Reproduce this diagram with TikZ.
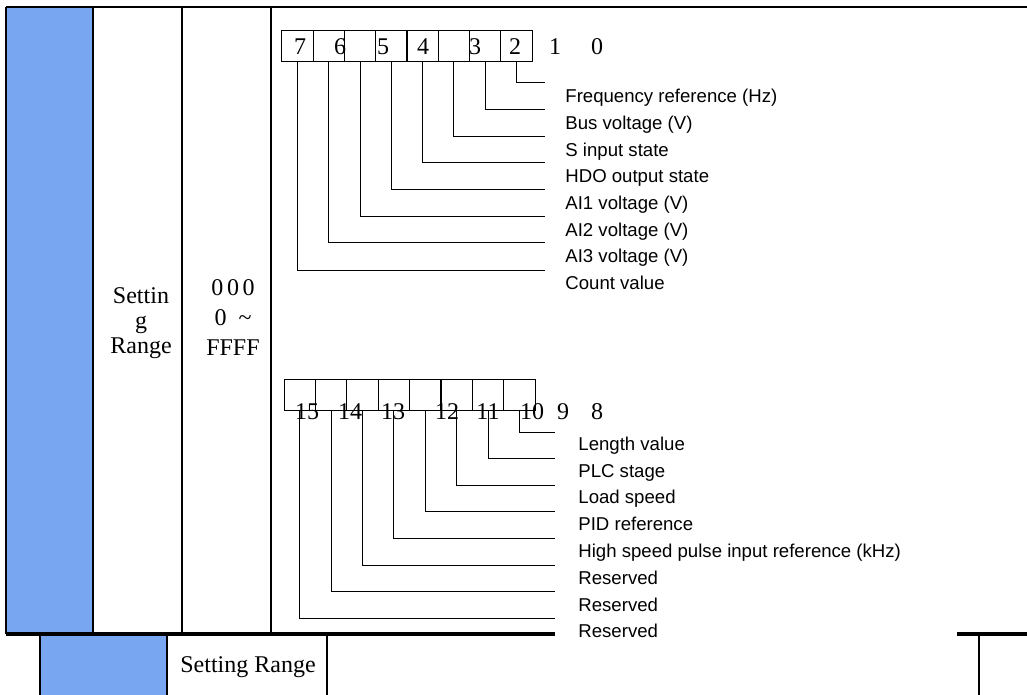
\documentclass[tikz,border=0pt]{standalone}
\usepackage{fontspec}
\setmainfont{Liberation Serif}
\newfontfamily\arialfont{Liberation Sans}
\definecolor{cellblue}{RGB}{120,166,240}
\tikzset{
  bitbox/.style={draw, line width=0.5pt, minimum width=15.65pt, minimum height=15.5pt, inner sep=0pt},
  bitnum/.style={inner sep=0pt, font=\fontsize{12}{14}\selectfont},
  fieldlbl/.style={anchor=west, inner sep=0pt, text height=6.7pt, text depth=0pt, font=\arialfont\fontsize{9.3}{11}\selectfont},
  leader/.style={line width=0.5pt},
  rule/.style={line width=1.1pt},
  cell/.style={align=center, inner sep=0pt},
}
\begin{document}
\begin{tikzpicture}[x=0.5pt, y=-0.5pt]
\useasboundingbox (0,0) rectangle (1027,695);
% table frame
\fill[cellblue] (6,7) rectangle (93,634);
\fill[cellblue] (40,636) rectangle (167,695);
\draw[rule] (6,7) -- (1027,7);
\draw[rule] (6,7) -- (6,634);
\draw[rule] (93,7) -- (93,634);
\draw[rule] (182,7) -- (182,634);
\draw[rule] (271,7) -- (271,634);
\draw[line width=1.6pt] (6,634) -- (555,634);
\draw[line width=1.6pt] (957,634) -- (1027,634);
\draw[line width=0.6pt] (40,636) -- (40,695);
\draw[rule] (167,636) -- (167,695);
\draw[line width=0.8pt] (327,636) -- (327,695);
\draw[rule] (979,636) -- (979,695);
% cell texts
\node[cell, font=\fontsize{12}{12.5}\selectfont] (setlbl) at (141,323) {Settin\\g\\Range};
\node[cell, font=\fontsize{12}{15}\selectfont] (range) at (233,318) {0\kern1.8pt0\kern1.8pt0\\0\hspace{6pt}\textasciitilde\\FFFF};
\node[cell, font=\fontsize{12}{14}\selectfont] (setrng) at (248,667) {Setting Range};
% low byte boxes
\node[bitbox] (b7) at (297.6,46.5) {};
\node[bitbox] (b6) at (328.9,46.5) {};
\node[bitbox] (b5) at (360.1,46.5) {};
\node[bitbox] (b4) at (391.4,46.5) {};
\node[bitbox] (b3) at (422.6,46.5) {};
\node[bitbox] (b2) at (453.9,46.5) {};
\node[bitbox] (b1) at (485.1,46.5) {};
\node[bitbox] (b0) at (516.4,46.5) {};
\node[bitnum] (d7) at (300,47) {7};
\node[bitnum] (d6) at (340,47) {6};
\node[bitnum] (d5) at (383,47) {5};
\node[bitnum] (d4) at (423,47) {4};
\node[bitnum] (d3) at (475,47) {3};
\node[bitnum] (d2) at (515,47) {2};
\node[bitnum] (d1) at (555,47) {1};
\node[bitnum] (d0) at (597,47) {0};
\node[fieldlbl] (freq) at (565,96) {Frequency reference (Hz)};
\node[fieldlbl] (busv) at (565,122.7) {Bus voltage (V)};
\node[fieldlbl] (sin) at (565,149.4) {S input state};
\node[fieldlbl] (hdo) at (565,176) {HDO output state};
\node[fieldlbl] (aione) at (565,202.8) {AI1 voltage (V)};
\node[fieldlbl] (aitwo) at (565,229.5) {AI2 voltage (V)};
\node[fieldlbl] (aithree) at (565,256) {AI3 voltage (V)};
\node[fieldlbl] (count) at (565,283) {Count value};
\coordinate (e0) at (545,83);
\coordinate (e1) at (545,109.7);
\coordinate (e2) at (545,136.4);
\coordinate (e3) at (545,163);
\coordinate (e4) at (545,189.8);
\coordinate (e5) at (545,216.5);
\coordinate (e6) at (545,243);
\coordinate (e7) at (545,270);
\draw[leader] (b0.south) |- (e0);
\draw[leader] (b1.south) |- (e1);
\draw[leader] (b2.south) |- (e2);
\draw[leader] (b3.south) |- (e3);
\draw[leader] (b4.south) |- (e4);
\draw[leader] (b5.south) |- (e5);
\draw[leader] (b6.south) |- (e6);
\draw[leader] (b7.south) |- (e7);
% high byte boxes
\node[bitbox] (b15) at (299.7,394.5) {};
\node[bitbox] (b14) at (331.1,394.5) {};
\node[bitbox] (b13) at (362.5,394.5) {};
\node[bitbox] (b12) at (393.9,394.5) {};
\node[bitbox] (b11) at (425.3,394.5) {};
\node[bitbox] (b10) at (456.7,394.5) {};
\node[bitbox] (b9) at (488.1,394.5) {};
\node[bitbox] (b8) at (519.5,394.5) {};
\node[bitnum] (d15) at (307,412) {15};
\node[bitnum] (d14) at (350,412) {14};
\node[bitnum] (d13) at (393,412) {13};
\node[bitnum] (d12) at (447,412) {12};
\node[bitnum] (d11) at (488,412) {11};
\node[bitnum] (d10) at (532,412) {10};
\node[bitnum] (d9) at (563,412) {9};
\node[bitnum] (d8) at (597,412) {8};
\node[fieldlbl] (lenv) at (578,443.5) {Length value};
\node[fieldlbl] (plc) at (578,470.3) {PLC stage};
\node[fieldlbl] (load) at (578,497.1) {Load speed};
\node[fieldlbl] (pid) at (578,523.9) {PID reference};
\node[fieldlbl] (hspulse) at (578,550.7) {High speed pulse input reference (kHz)};
\node[fieldlbl] (resa) at (578,577.5) {Reserved};
\node[fieldlbl] (resb) at (578,604.3) {Reserved};
\node[fieldlbl] (resc) at (578,631.1) {Reserved};
\coordinate (e8) at (555,432);
\coordinate (e9) at (555,458.6);
\coordinate (e10) at (555,485.2);
\coordinate (e11) at (555,511.8);
\coordinate (e12) at (555,538.4);
\coordinate (e13) at (555,565);
\coordinate (e14) at (555,591.6);
\coordinate (e15) at (555,618.2);
\draw[leader] (b8.south) |- (e8);
\draw[leader] (b9.south) |- (e9);
\draw[leader] (b10.south) |- (e10);
\draw[leader] (b11.south) |- (e11);
\draw[leader] (b12.south) |- (e12);
\draw[leader] (b13.south) |- (e13);
\draw[leader] (b14.south) |- (e14);
\draw[leader] (b15.south) |- (e15);
\end{tikzpicture}
\end{document}
